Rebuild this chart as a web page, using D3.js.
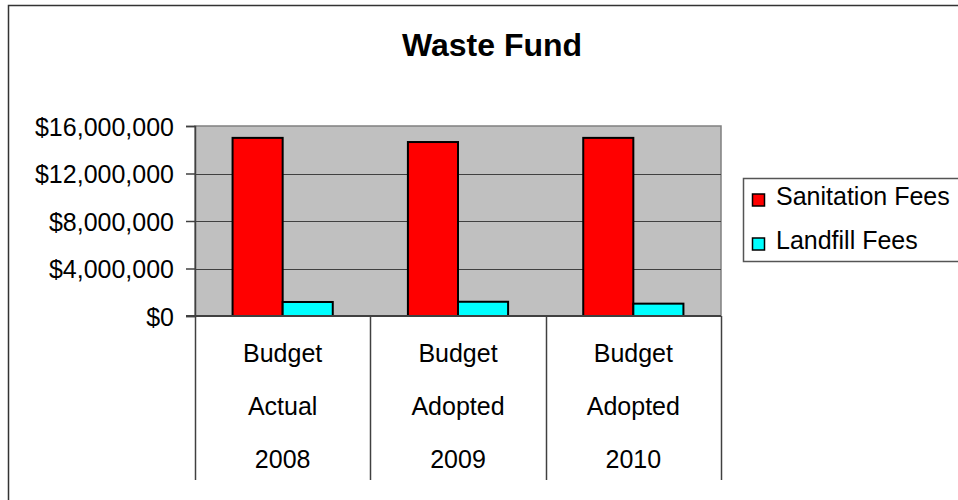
<!DOCTYPE html>
<html lang="en">

<head>
  <meta charset="UTF-8">
  <title>Waste Fund</title>
  <script src="https://d3js.org/d3.v7.min.js"></script>
  <style>
    body {
      margin: 0;
      padding: 0;
      background: #fff;
      font-family: "Liberation Sans", Arial, sans-serif;
    }
  </style>
</head>

<body>
  <svg id="chart"></svg>
  <script>
    const categories = ["2008", "2009", "2010"];
    const categoryLines = [
      ["Budget", "Actual", "2008"],
      ["Budget", "Adopted", "2009"],
      ["Budget", "Adopted", "2010"]
    ];
    const seriesNames = ["Sanitation Fees", "Landfill Fees"];
    const sanitationFees = [15000000, 14650000, 15000000];
    const landfillFees = [1180000, 1200000, 1040000];
    const yTicks = [0, 4000000, 8000000, 12000000, 16000000];

    const width = 958;
    const height = 500;
    const colors = ["#ff0000", "#00ffff"];

    const svg = d3.select("#chart")
      .attr("width", width)
      .attr("height", height);

    // outer chart frame (runs off the right and bottom)
    svg.append("rect")
      .attr("x", 8.5)
      .attr("y", 5.5)
      .attr("width", 1000)
      .attr("height", 600)
      .attr("fill", "#fff")
      .attr("stroke", "#333")
      .attr("stroke-width", 1.5);

    svg.append("text")
      .attr("x", 492)
      .attr("y", 56)
      .attr("text-anchor", "middle")
      .attr("font-size", 32)
      .attr("font-weight", "bold")
      .text("Waste Fund");

    const plot = { left: 195, right: 721, top: 126, bottom: 316 };

    const y = d3.scaleLinear()
      .domain([0, 16000000])
      .range([plot.bottom, plot.top]);

    const x = d3.scaleBand()
      .domain(categories)
      .range([plot.left, plot.right])
      .padding(0);

    const xInner = d3.scaleBand()
      .domain(seriesNames)
      .range([0, x.bandwidth()])
      .paddingInner(0)
      .paddingOuter(0.75);

    // plot area
    svg.append("rect")
      .attr("x", plot.left)
      .attr("y", plot.top)
      .attr("width", plot.right - plot.left)
      .attr("height", plot.bottom - plot.top)
      .attr("fill", "#c0c0c0")
      .attr("stroke", "#808080")
      .attr("stroke-width", 1.5);

    // gridlines
    svg.append("g")
      .selectAll("line")
      .data(yTicks.filter(d => d > 0 && d < 16000000))
      .join("line")
      .attr("x1", plot.left)
      .attr("x2", plot.right)
      .attr("y1", d => Math.round(y(d)) + 0.5)
      .attr("y2", d => Math.round(y(d)) + 0.5)
      .attr("stroke", "#404040")
      .attr("stroke-width", 1);

    // bars
    const sets = [sanitationFees, landfillFees];
    const groups = svg.append("g")
      .selectAll("g")
      .data(categories)
      .join("g")
      .attr("transform", d => `translate(${x(d)},0)`);

    groups.selectAll("rect")
      .data((d, i) => seriesNames.map((s, j) => ({ s, j, v: sets[j][i] })))
      .join("rect")
      .attr("x", d => xInner(d.s))
      .attr("y", d => y(d.v))
      .attr("width", xInner.bandwidth())
      .attr("height", d => plot.bottom - y(d.v))
      .attr("fill", d => colors[d.j])
      .attr("stroke", "#000")
      .attr("stroke-width", 2);

    // y axis
    const yAxis = svg.append("g")
      .attr("transform", `translate(${plot.left},0)`)
      .call(d3.axisLeft(y)
        .tickValues(yTicks)
        .tickSize(9)
        .tickPadding(12)
        .tickFormat(d => "$" + d3.format(",")(d)));

    yAxis.select(".domain").attr("stroke", "#404040").attr("stroke-width", 1.5);
    yAxis.selectAll(".tick line").attr("stroke", "#404040").attr("stroke-width", 1.5);
    yAxis.selectAll(".tick text")
      .attr("font-family", "Liberation Sans, Arial, sans-serif")
      .attr("font-size", 25)
      .attr("fill", "#000")
      .attr("dy", "0.36em");

    // category axis line
    svg.append("line")
      .attr("x1", 186)
      .attr("x2", plot.right)
      .attr("y1", plot.bottom)
      .attr("y2", plot.bottom)
      .attr("stroke", "#404040")
      .attr("stroke-width", 2);

    // category separators
    const seps = categories.map(d => x(d)).concat([plot.right]);
    svg.append("g")
      .selectAll("line")
      .data(seps)
      .join("line")
      .attr("x1", d => Math.round(d) + 0.5)
      .attr("x2", d => Math.round(d) + 0.5)
      .attr("y1", plot.bottom)
      .attr("y2", 480)
      .attr("stroke", "#404040")
      .attr("stroke-width", 1.5);

    // category labels (three lines each)
    const labelBaselines = [362, 415, 468];
    svg.append("g")
      .selectAll("g")
      .data(categories)
      .join("g")
      .each(function (d, i) {
        d3.select(this).selectAll("text")
          .data(categoryLines[i])
          .join("text")
          .attr("x", x(d) + x.bandwidth() / 2)
          .attr("y", (t, k) => labelBaselines[k])
          .attr("text-anchor", "middle")
          .attr("font-size", 25)
          .text(t => t);
      });

    // legend
    const legend = svg.append("g");
    legend.append("rect")
      .attr("x", 743.5)
      .attr("y", 178.5)
      .attr("width", 260)
      .attr("height", 83)
      .attr("fill", "#fff")
      .attr("stroke", "#555")
      .attr("stroke-width", 1.5);

    const legendRows = [205, 249];
    legend.selectAll("g")
      .data(seriesNames)
      .join("g")
      .each(function (d, i) {
        const row = d3.select(this);
        row.append("rect")
          .attr("x", 752.5)
          .attr("y", legendRows[i] - 11)
          .attr("width", 12)
          .attr("height", 12)
          .attr("fill", colors[i])
          .attr("stroke", "#000")
          .attr("stroke-width", 1.5);
        row.append("text")
          .attr("x", 776)
          .attr("y", legendRows[i])
          .attr("font-size", 25)
          .text(d);
      });
  </script>
</body>

</html>
